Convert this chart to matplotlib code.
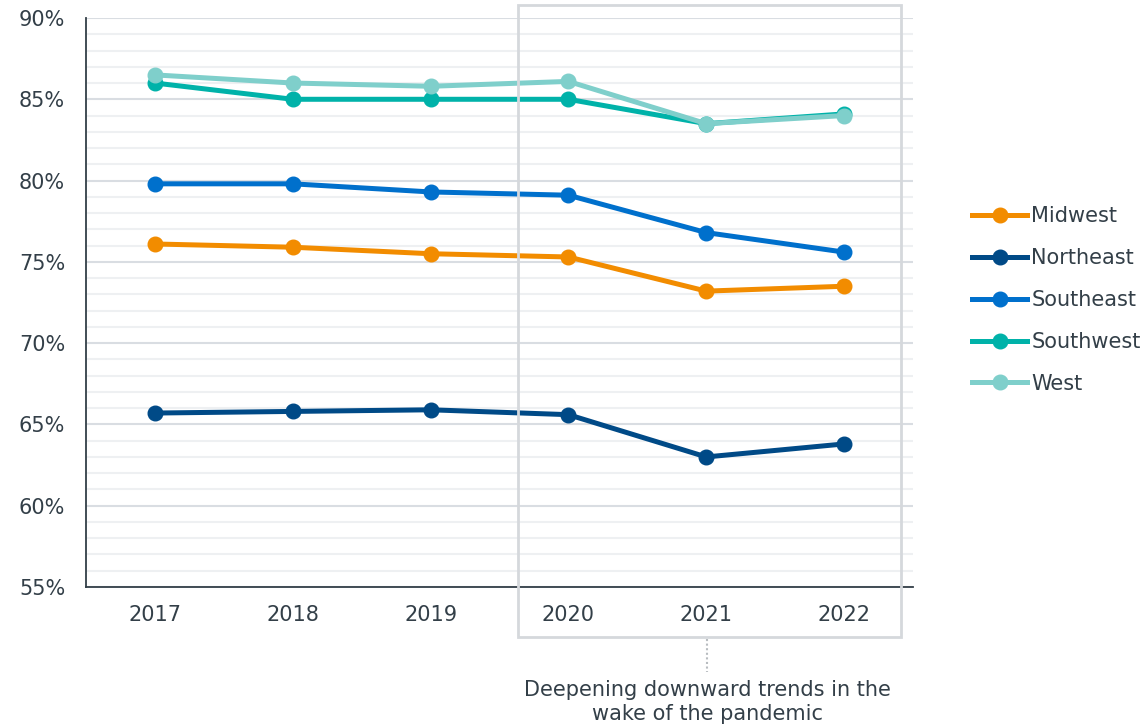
import matplotlib.pyplot as plt
from matplotlib.patches import Rectangle
from matplotlib.lines import Line2D

# Data
years = [2017, 2018, 2019, 2020, 2021, 2022]
midwest = [76.1, 75.9, 75.5, 75.3, 73.2, 73.5]
northeast = [65.7, 65.8, 65.9, 65.6, 63.0, 63.8]
southeast = [79.8, 79.8, 79.3, 79.1, 76.8, 75.6]
southwest = [86.0, 85.0, 85.0, 85.0, 83.5, 84.1]
west = [86.5, 86.0, 85.8, 86.1, 83.5, 84.0]
y_ticks = [55, 60, 65, 70, 75, 80, 85, 90]
note = 'Deepening downward trends in the\nwake of the pandemic'

text_col = '#333f48'
fs = 15
series = [
    ('Midwest', midwest, '#f28c00'),
    ('Northeast', northeast, '#004a87'),
    ('Southeast', southeast, '#0070cc'),
    ('Southwest', southwest, '#00b2a9'),
    ('West', west, '#7fcfcb'),
]

plt.rcParams['font.family'] = ['DejaVu Sans']

fig = plt.figure(figsize=(11.47, 7.28), dpi=100)
ax = fig.add_axes([86 / 1147, 1 - 587 / 728, (913 - 86) / 1147, (587 - 18) / 728])

# Gridlines: major every 5%, minor every 1%
for v in range(55, 91):
    col = '#d9dde2' if v % 5 == 0 else '#eef0f2'
    ax.axhline(v, color=col, lw=1.5, zorder=0)

# Draw lines with West on top
order = ['Northeast', 'Midwest', 'Southeast', 'Southwest', 'West']
lookup = {name: (vals, col) for name, vals, col in series}
for i, name in enumerate(order):
    vals, col = lookup[name]
    ax.plot(years, vals, color=col, lw=3.6, marker='o', markersize=10.5,
            solid_capstyle='round', zorder=3 + i)

ax.set_xlim(2016.5, 2022.5)
ax.set_ylim(55, 90)
ax.set_xticks(years)
ax.set_xticklabels([str(y) for y in years])
ax.set_yticks(y_ticks)
ax.set_yticklabels([f'{v}%' for v in y_ticks])
ax.tick_params(axis='both', length=0, labelsize=fs, colors=text_col)
ax.tick_params(axis='y', pad=15)
ax.tick_params(axis='x', pad=13)

for s in ['top', 'right']:
    ax.spines[s].set_visible(False)
for s in ['left', 'bottom']:
    ax.spines[s].set_color(text_col)
    ax.spines[s].set_linewidth(1.3)

# Highlight box around 2020-2022
box = Rectangle((518 / 1147, 1 - 637 / 728), (901 - 518) / 1147, (637 - 5) / 728,
                transform=fig.transFigure, fill=False, edgecolor='#d5d8dc', lw=2, zorder=10)
fig.patches.append(box)

# Dotted connector and note
xn = 707 / 1147
fig.add_artist(Line2D([xn, xn], [1 - 639 / 728, 1 - 672 / 728], transform=fig.transFigure,
                      color='#b8bcc0', lw=1.5, linestyle=(0, (1, 1.2))))
fig.text(xn, 1 - 702 / 728, note, ha='center', va='center', fontsize=fs,
         color=text_col, linespacing=1.28)

# Legend
handles = [Line2D([], [], color=col, lw=3.6, marker='o', markersize=10.5) for _, _, col in series]
labels = [name for name, _, _ in series]
leg = fig.legend(handles, labels, loc='center left', bbox_to_anchor=(972 / 1147, 1 - 300 / 728),
                 frameon=False, fontsize=fs, handlelength=2.65, handletextpad=0.2,
                 labelspacing=1.05, borderpad=0, borderaxespad=0)
for t in leg.get_texts():
    t.set_color(text_col)

fig.savefig('out.png', dpi=100)
